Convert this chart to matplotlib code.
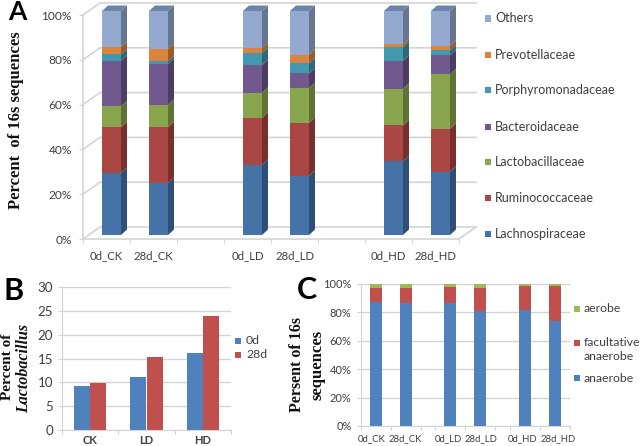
import numpy as np
import matplotlib
matplotlib.use('Agg')
import matplotlib.pyplot as plt
from matplotlib.patches import Rectangle

# panel A, segment tops (cumulative percent)
a_samples = ['0d_CK', '28d_CK', '0d_LD', '28d_LD', '0d_HD', '28d_HD']
a_slots = [0, 1, 3, 4, 6, 7]
a_names = ['Lachnospiraceae', 'Ruminococcaceae', 'Lactobacillaceae', 'Bacteroidaceae',
           'Porphyromonadaceae', 'Prevotellaceae', 'Others']
lachno = [27.7, 23.2, 31.4, 26.5, 32.9, 28.2]
rumino = [48.1, 48.1, 52.3, 50.0, 48.9, 47.4]
lacto = [57.5, 58.1, 63.5, 65.6, 65.3, 71.7]
bactero = [77.8, 76.2, 75.9, 72.1, 77.8, 80.2]
porphy = [80.6, 77.5, 81.2, 76.6, 83.9, 82.4]
prevo = [83.9, 83.0, 83.3, 80.5, 85.1, 84.5]
others = [100, 100, 100, 100, 100, 100]
a_tops = [lachno, rumino, lacto, bactero, porphy, prevo, others]
a_colors = ['#4572a7', '#aa4643', '#89a54e', '#71588f', '#4198af', '#db843d', '#93a9cf']
a_sides = ['#2f4f76', '#78302e', '#5f7336', '#4e3d63', '#2c6a7b', '#9a5c2a', '#667690']

# panel B
b_groups = ['CK', 'LD', 'HD']
b_0d = [9.3, 11.2, 16.1]
b_28d = [9.9, 15.3, 24.0]

# panel C, cumulative percent
c_samples = ['0d_CK', '28d_CK', '0d_LD', '28d_LD', '0d_HD', '28d_HD']
c_pos = [0.5, 1.5, 3, 4, 5.5, 6.5]
c_label_pos = [0.37, 1.5, 2.92, 4.02, 5.43, 6.6]
anaerobe = [87.3, 86.4, 86.4, 80.9, 81.4, 73.6]
facultative = [97.4, 96.9, 97.9, 97.2, 98.6, 98.4]
aerobe = [100, 100, 100, 100, 100, 100]

W, H = 640, 446
TXT = '#3f3f3f'
GRID = '#d4d4d4'
SANS = 'Lato'
SERIF = 'Liberation Serif'

fig = plt.figure(figsize=(W/100, H/100), dpi=100)


def make_axes(x0, x1, ytop, ybot):
    return fig.add_axes([x0/W, 1-ybot/H, (x1-x0)/W, (ybot-ytop)/H])


def ftext(x, y, s, **kw):
    kw.setdefault('ha', 'center')
    kw.setdefault('va', 'center')
    fig.text(x/W, 1-y/H, s, **kw)


def key(x, y, color, label, size, text_x, side=6.5):
    fig.add_artist(Rectangle(((x-side/2)/W, 1-(y+side/2)/H), side/W, side/H,
                             transform=fig.transFigure, fc=color, ec='none'))
    ftext(text_x, y, label, ha='left', family=SANS, size=size, color=TXT)


def flat_style(ax):
    for s in ['top', 'right']:
        ax.spines[s].set_visible(False)
    for s in ['left', 'bottom']:
        ax.spines[s].set_color(GRID)
    ax.tick_params(color=GRID, length=3, labelcolor=TXT)
    ax.set_axisbelow(True)
    ax.yaxis.grid(True, color=GRID, lw=1)


# ---- A ----
ax = make_axes(83, 459, 15, 239)
ax.set_xlim(0, 8)
ax.set_ylim(0, 100)
px = 8/376
py = 100/224
for s in ['top', 'right']:
    ax.spines[s].set_visible(False)
for s in ['left', 'bottom']:
    ax.spines[s].set_color(GRID)
    ax.spines[s].set_linewidth(1.2)
back_x = 17*px
back_y = 12*py
for v in range(0, 101, 20):
    ax.plot([0, back_x, 8+back_x], [v, v+back_y, v+back_y], color=GRID, lw=1.2,
            clip_on=False, zorder=1)
ax.plot([8, 8+back_x], [0, back_y], color=GRID, lw=1.2, clip_on=False, zorder=1)
ax.set_yticks(range(0, 101, 20))
ax.set_yticklabels(['%d%%' % v for v in range(0, 101, 20)], family=SANS, size=8.6)
ax.set_xticks(range(9))
ax.set_xticklabels([])
ax.tick_params(color=GRID, length=3, labelcolor=TXT, pad=5)

bar_w = 19*px
lift = 4*py
side_x = 6*px
side_y = 5.5*py
for i, slot in enumerate(a_slots):
    left = slot + 19*px
    right = left + bar_w
    low = 0
    for tops, col, dark in zip(a_tops, a_colors, a_sides):
        top = tops[i]
        ax.bar(left, top-low, bar_w, bottom=low+lift, align='edge', color=col,
               lw=0, clip_on=False, zorder=3)
        ax.fill([right, right+side_x, right+side_x, right],
                [low+lift, low+lift+side_y, top+lift+side_y, top+lift],
                color=dark, lw=0, clip_on=False, zorder=3)
        low = top
    ax.fill([left, left+side_x, right+side_x, right],
            [100+lift, 100+lift+side_y, 100+lift+side_y, 100+lift],
            color='#6d83a8', lw=0, clip_on=False, zorder=3)
    ax.text(slot+0.5, -7.6, a_samples[i], ha='center', va='center', family=SANS, size=8.2,
            color=TXT, clip_on=False)

a_key_y = [234, 198, 162, 127, 90, 55, 18.5]
for name, col, y in zip(a_names, a_colors, a_key_y):
    key(488, y, col, name, 9, 495)

ftext(16, 120, 'Percent  of 16s sequences', rotation=90, family=SERIF, weight='bold',
      size=12, color='#111111')
ftext(17, 12, 'A', family=SANS, weight='bold', size=19, color='black')

# ---- B ----
ax = make_axes(62, 231, 287, 430)
ax.set_xlim(0, 3)
ax.set_ylim(0, 30)
flat_style(ax)
xb = np.arange(3) + 0.5
bw = 16/56.3
ax.bar(xb-bw/2, b_0d, bw, color='#4f81bd')
ax.bar(xb+bw/2, b_28d, bw, color='#c0504d')
ax.set_xticks(range(4))
ax.set_xticklabels([])
ax.set_yticks(range(0, 31, 5))
ax.set_yticklabels(range(0, 31, 5), family=SANS, size=9.6)
for x, g in zip(xb, b_groups):
    ax.text(x, -2.3, g, ha='center', va='center', family=SANS, weight='bold', size=8,
            color=TXT)
key(238, 341, '#4f81bd', '0d', 8.8, 246)
key(238, 355, '#c0504d', '28d', 8.8, 246)
ftext(8, 367, 'Percent of', rotation=90, family=SERIF, weight='bold', size=11,
      color='#111111')
ftext(24, 368, 'Lactobacillus', rotation=90, family=SERIF, weight='bold', style='italic',
      size=11.5, color='#111111')
ftext(14, 291, 'B', family=SANS, weight='bold', size=22, color='black')

# ---- C ----
ax = make_axes(360.7, 570, 284, 426)
ax.set_xlim(0, 7)
ax.set_ylim(0, 100)
flat_style(ax)
cw = 12/29.9
low = np.zeros(6)
for tops, col in zip([anaerobe, facultative, aerobe], ['#4f81bd', '#c0504d', '#9bbb59']):
    tops = np.array(tops)
    ax.bar(c_pos, tops-low, cw, bottom=low, color=col)
    low = tops
ax.set_xticks([0, 1, 2, 2.5, 3.5, 4.5, 5, 6, 7])
ax.set_xticklabels([])
ax.set_yticks(range(0, 101, 20))
ax.set_yticklabels(['%d%%' % v for v in range(0, 101, 20)], family=SANS, size=8)
for x, s in zip(c_label_pos, c_samples):
    ax.text(x, -9, s, ha='center', va='center', family=SANS, size=6.8, color=TXT)
key(577, 309, '#9bbb59', 'aerobe', 8.8, 584)
key(577, 343, '#c0504d', 'facultative', 8.8, 584)
ftext(584, 357, 'anaerobe', ha='left', family=SANS, size=8.8, color=TXT)
key(577, 378, '#4f81bd', 'anaerobe', 8.8, 584)
ftext(297, 365, 'Persent of 16s', rotation=90, family=SERIF, weight='bold', size=11.5,
      color='#111111')
ftext(317, 365, 'sequences', rotation=90, family=SERIF, weight='bold', size=12,
      color='#111111')
ftext(307, 290, 'C', family=SANS, weight='bold', size=22, color='black')

fig.savefig('out.png', dpi=100)
